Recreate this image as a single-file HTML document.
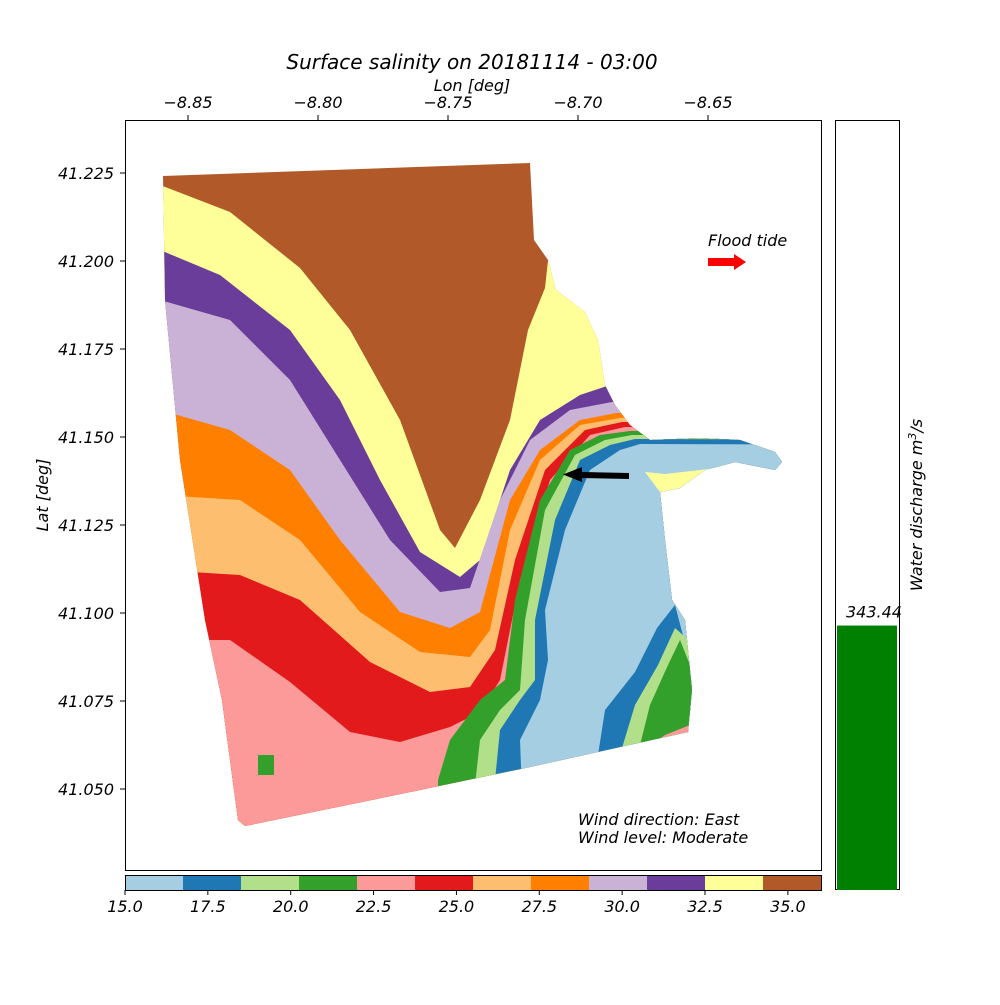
<!DOCTYPE html>
<html><head><meta charset="utf-8"><style>
body{margin:0;background:#fff;width:1000px;height:1000px;overflow:hidden}
svg text{font-family:"DejaVu Sans","Liberation Sans",sans-serif;font-style:oblique;fill:#000}
</style></head><body>
<svg id="fig" width="1000" height="1000" viewBox="0 0 1000 1000">
<defs><clipPath id="coast"><path d="M163,176 L530,163 L534,240 L548,260 L556,290 L585,312 L598,340 L605,385 L615,405 L630,425 L650,440 L700,438 L740,440 L775,452 L782,462 L775,470 L735,462 L705,470 L680,488 L660,492 L665,540 L672,600 L685,620 L692,690 L688,732 L530,767 L420,790 L245,826 L238,820 L222,700 L205,620 L180,460 L165,300 Z"/></clipPath></defs>
<g clip-path="url(#coast)">
<rect x="100" y="100" width="750" height="780" fill="#b15928"/>
<path fill="#ffff99" d="M0,185 L160,185 L230,212 L300,268 L350,330 L400,420 L440,530 L455,548 L480,500 L510,420 L528,330 L545,288 L560,150 L1000,150 L1000,1000 L0,1000Z"/>
<path fill="#6a3d9a" d="M0,250 L160,250 L220,275 L290,330 L340,400 L380,480 L420,552 L460,577 L480,560 L510,470 L540,420 L580,395 L610,385 L1000,392 L1000,1000 L0,1000Z"/>
<path fill="#cab2d6" d="M0,300 L160,300 L230,320 L290,380 L340,460 L390,540 L440,592 L470,588 L500,500 L530,440 L570,410 L612,402 L1000,410 L1000,1000 L0,1000Z"/>
<path fill="#ff7f00" d="M0,410 L160,410 L230,430 L290,470 L340,540 L400,612 L450,628 L480,612 L510,500 L540,450 L580,420 L616,413 L1000,418 L1000,1000 L0,1000Z"/>
<path fill="#fdbf6f" d="M0,495 L160,495 L240,500 L300,540 L360,612 L420,652 L470,657 L490,630 L510,530 L540,460 L580,425 L620,418 L1000,422 L1000,1000 L0,1000Z"/>
<path fill="#e31a1c" d="M0,570 L160,570 L240,575 L300,600 L370,662 L430,692 L470,687 L495,650 L515,560 L545,470 L585,430 L622,422 L1000,426 L1000,1000 L0,1000Z"/>
<path fill="#fb9a99" d="M0,640 L160,640 L230,640 L290,682 L350,732 L400,742 L450,727 L480,712 L500,680 L520,580 L550,480 L590,435 L625,427 L1000,430 L1000,1000 L0,1000Z"/>
<path fill="#33a02c" d="M440,1000 L438,780 L450,740 L480,700 L505,680 L515,600 L540,500 L570,450 L600,435 L630,431 L1000,432 L1000,1000Z"/>
<path fill="#b2df8a" d="M475,1000 L475,785 L480,740 L500,710 L520,690 L525,620 L545,510 L575,455 L605,440 L632,435 L1000,436 L1000,1000Z"/>
<path fill="#1f78b4" d="M495,1000 L495,780 L500,730 L520,700 L535,680 L535,620 L555,520 L580,460 L610,445 L635,439 L1000,440 L1000,1000Z"/>
<path fill="#a6cee3" d="M530,1000 L520,740 L540,700 L548,660 L545,610 L565,530 L590,470 L620,450 L640,444 L1000,445 L1000,1000Z"/>
<path fill="#ffff99" d="M645,472 L660,492 L680,489 L700,478 L722,467 L700,470 L665,474Z"/>
<path fill="#1f78b4" d="M598,755 L605,710 L635,672 L657,628 L675,605 L700,700 L700,760Z"/>
<path fill="#b2df8a" d="M622,748 L635,705 L658,665 L675,628 L700,650 L700,760Z"/>
<path fill="#33a02c" d="M640,745 L650,705 L668,665 L680,640 L700,690 L700,760Z"/>
<path fill="#fb9a99" d="M650,745 L665,735 L690,725 L700,760Z"/>
<rect x="258" y="755" width="16" height="20" fill="#33a02c"/>
</g>
<rect x="125.5" y="120.5" width="696" height="750" fill="none" stroke="#000"/>
<text x="472" y="69" font-size="20" text-anchor="middle">Surface salinity on 20181114 - 03:00</text>
<text x="472" y="91" font-size="16" text-anchor="middle">Lon [deg]</text>
<text transform="translate(48,495) rotate(-90)" font-size="16" text-anchor="middle">Lat [deg]</text>
<g id="xticks"></g>
<g id="yticks"></g>
<text x="708" y="246" font-size="16">Flood tide</text>
<path d="M708,258 L734,258 L734,254 L746,262 L734,270 L734,266 L708,266Z" fill="#f00"/>
<path d="M629,473 L582,472 L582,467 L563,474.5 L582,482 L582,478 L629,479Z" fill="#000"/>
<text x="578" y="825" font-size="16">Wind direction: East</text>
<text x="578" y="843" font-size="16">Wind level: Moderate</text>
<g id="cbar"></g>
<rect x="835.5" y="120.5" width="64" height="769" fill="none" stroke="#000"/>
<g id="dbar"></g>
<text transform="translate(922,505) rotate(-90)" font-size="16" text-anchor="middle">Water discharge m<tspan dy="-6" font-size="11">3</tspan><tspan dy="6">/s</tspan></text>
</svg>
<script>
const lonTicks=[-8.85,-8.80,-8.75,-8.70,-8.65];
const latTicks=[41.225,41.200,41.175,41.150,41.125,41.100,41.075,41.050];
const cbarColors=["#a6cee3","#1f78b4","#b2df8a","#33a02c","#fb9a99","#e31a1c","#fdbf6f","#ff7f00","#cab2d6","#6a3d9a","#ffff99","#b15928"];
const cbarTicks=[15.0,17.5,20.0,22.5,25.0,27.5,30.0,32.5,35.0];
const discharge=[343.44];
const NS="http://www.w3.org/2000/svg";
const xs=v=>188+(v+8.85)/0.05*130;
const ys=v=>173+(41.225-v)/0.025*88;
const cx=v=>125+(v-15)/21*696;
const dy=v=>890-v/1000*770;
function mk(t,a,p){const e=document.createElementNS(NS,t);for(const k in a)e.setAttribute(k,a[k]);p.appendChild(e);return e;}
const xg=document.getElementById('xticks');
lonTicks.forEach(v=>{
 const l=mk('line',{x1:xs(v),x2:xs(v),y1:120,y2:115,stroke:'#000'},xg);
 
 
 const t=mk('text',{x:xs(v),y:108,'font-size':16,'text-anchor':'middle'},xg);
 
 
 t.textContent='\u2212'+Math.abs(v).toFixed(2);
});
const yg=document.getElementById('yticks');
latTicks.forEach(v=>{
 const l=mk('line',{x1:120,x2:125,y1:ys(v),y2:ys(v),stroke:'#000'},yg);
 
 
 const t=mk('text',{x:114,y:ys(v)+6,'font-size':16,'text-anchor':'end'},yg);
 
 
 t.textContent=v.toFixed(3);
});
const cg=document.getElementById('cbar');
cbarColors.forEach((c,i)=>{
 const a=15+i*1.75;
 const r=mk('rect',{x:cx(a),y:875,width:cx(a+1.75)-cx(a),height:15,fill:c},cg);
 
 
});
mk('rect',{x:125.5,y:875.5,width:696,height:15,fill:'none',stroke:'#000'},cg);
cbarTicks.forEach(v=>{
 mk('line',{x1:cx(v),x2:cx(v),y1:890,y2:895,stroke:'#000'},cg);
 const t=mk('text',{x:cx(v),y:912,'font-size':16,'text-anchor':'middle'},cg);
 
 
 t.textContent=v.toFixed(1);
});
const dg=document.getElementById('dbar');
discharge.forEach(v=>{
 const r=mk('rect',{x:837,y:dy(v),width:60,height:890-dy(v),fill:'#008000'},dg);
 
 
 const t=mk('text',{x:846,y:dy(v)-8,'font-size':16},dg);
 
 
 t.textContent=v.toFixed(2);
});
</script>
</body></html>
